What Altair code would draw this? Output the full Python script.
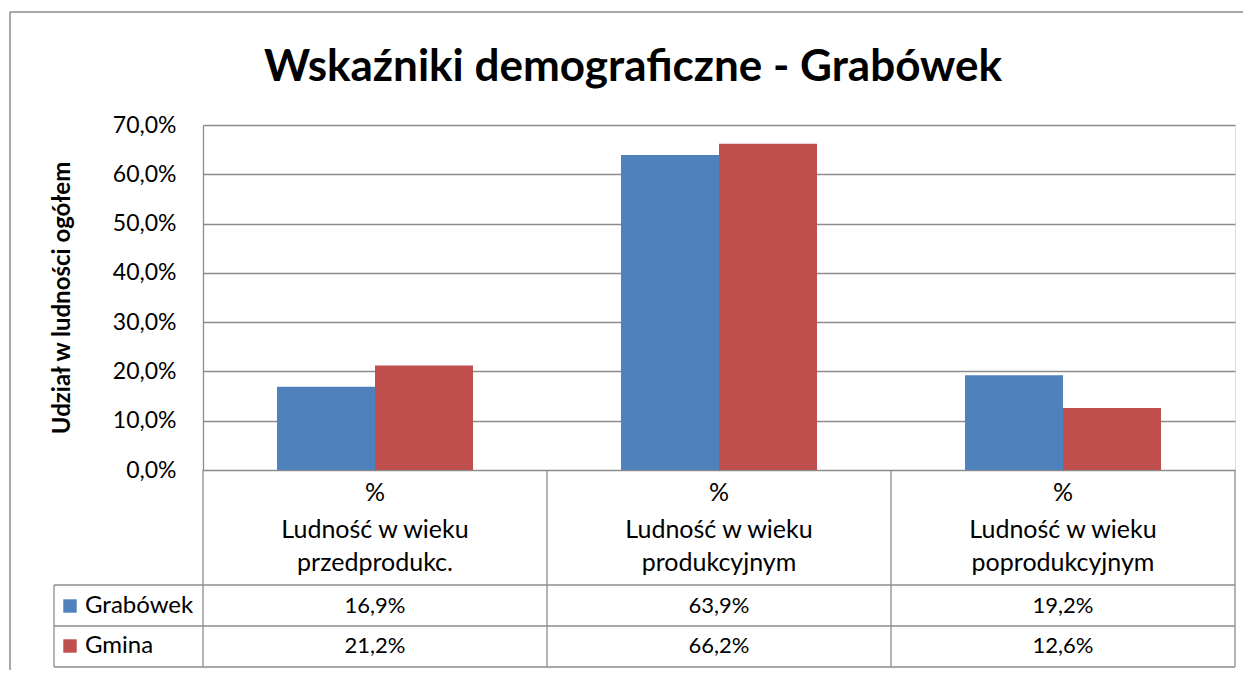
import altair as alt
import pandas as pd

# ---- data ----
series = ["Grabówek", "Gmina"]
cat_line1 = ["Ludność w wieku", "Ludność w wieku", "Ludność w wieku"]
cat_line2 = ["przedprodukc.", "produkcyjnym", "poprodukcyjnym"]
grabowek = [16.9, 63.9, 19.2]
gmina = [21.2, 66.2, 12.6]
y_ticks = [0, 10, 20, 30, 40, 50, 60, 70]
title_text = "Wskaźniki demograficzne - Grabówek"
y_title = "Udział w ludności ogółem"

BLUE = "#4F81BD"
RED = "#C0504D"
GRID = "#8C8C8C"
FONT = "Lato"

rows = []
for s, vals in zip(series, [grabowek, gmina]):
    for c1, c2, v in zip(cat_line1, cat_line2, vals):
        rows.append({"cat": c2, "line1": c1, "series": s, "value": v,
                     "label": f"{v:.1f}".replace(".", ",") + "%"})
df = pd.DataFrame(rows)
cats_df = pd.DataFrame({"cat": cat_line2, "line1": cat_line1})
ser_df = pd.DataFrame({"series": series})

W, H = 1032, 345
PL, PT = 195, 117

xscale = alt.Scale(domain=cat_line2, paddingInner=0, paddingOuter=0)
color = alt.Color("series:N", scale=alt.Scale(domain=series, range=[BLUE, RED]), legend=None)

base = alt.Chart(df)

bars = base.mark_bar(size=98).encode(
    x=alt.X("cat:N", scale=xscale, axis=None, sort=cat_line2),
    xOffset=alt.XOffset("series:N", sort=series,
                        scale=alt.Scale(domain=series, paddingInner=0, paddingOuter=0.755)),
    y=alt.Y("value:Q", scale=alt.Scale(domain=[0, 70], nice=False),
            axis=alt.Axis(values=y_ticks, grid=True, gridColor=GRID, gridWidth=1.3,
                          ticks=False, domain=True, domainColor=GRID, domainWidth=1.3,
                          labelExpr="replace(format(datum.value, '.1f'), '.', ',') + '%'",
                          labelFont=FONT, labelFontSize=23, labelColor="#000",
                          labelPadding=27,
                          title=y_title, titleFont=FONT, titleFontSize=24,
                          titleFontWeight="bold", titleColor="#000",
                          titleX=-141, titleY=H / 2, titleAngle=-90,
                          titleAlign="center", titleBaseline="middle")),
    color=color,
)

# table: vertical lines at category boundaries
vlines = alt.Chart(cats_df).mark_rule(color=GRID, strokeWidth=1.3).encode(
    x=alt.X("cat:N", scale=xscale, axis=None, sort=cat_line2, bandPosition=0),
    y=alt.value(H), y2=alt.value(542),
)
vline_right = alt.Chart(cats_df.head(1)).mark_rule(color=GRID, strokeWidth=1.3).encode(
    x=alt.value(W), y=alt.value(H), y2=alt.value(542))
vline_left = alt.Chart(cats_df.head(1)).mark_rule(color=GRID, strokeWidth=1.3).encode(
    x=alt.value(-149), y=alt.value(460), y2=alt.value(542))
hline_defs = [460, 501, 542]
hlines = [alt.Chart(cats_df.head(1)).mark_rule(color=GRID, strokeWidth=1.3).encode(
    x=alt.value(-149), x2=alt.value(W), y=alt.value(yy)) for yy in hline_defs]

# outer border (top and left)
border_top = alt.Chart(cats_df.head(1)).mark_rule(color=GRID, strokeWidth=1.5).encode(
    x=alt.value(-193), x2=alt.value(W + 40), y=alt.value(-113))
border_left = alt.Chart(cats_df.head(1)).mark_rule(color=GRID, strokeWidth=1.5).encode(
    x=alt.value(-193), y=alt.value(-113), y2=alt.value(560))

HDR = 25
VAL = 22

# table header text
pct = alt.Chart(cats_df).mark_text(font=FONT, fontSize=HDR, color="#000", baseline="middle").encode(
    x=alt.X("cat:N", scale=xscale, axis=None, sort=cat_line2, bandPosition=0.5),
    y=alt.value(368), text=alt.value("%"))
hdr1 = alt.Chart(cats_df).mark_text(font=FONT, fontSize=HDR, color="#000", baseline="middle").encode(
    x=alt.X("cat:N", scale=xscale, axis=None, sort=cat_line2, bandPosition=0.5),
    y=alt.value(405), text="line1:N")
hdr2 = alt.Chart(cats_df).mark_text(font=FONT, fontSize=HDR, color="#000", baseline="middle").encode(
    x=alt.X("cat:N", scale=xscale, axis=None, sort=cat_line2, bandPosition=0.5),
    y=alt.value(438), text="cat:N")

# table values
val_layers = []
for s, yy in zip(series, [481, 521]):
    val_layers.append(
        alt.Chart(df[df.series == s]).mark_text(font=FONT, fontSize=VAL, color="#000",
                                                 baseline="middle").encode(
            x=alt.X("cat:N", scale=xscale, axis=None, sort=cat_line2, bandPosition=0.5),
            y=alt.value(yy), text="label:N"))

# legend keys within table
ser_df["ypos"] = [481, 521]
keys = alt.Chart(ser_df).mark_square(size=180, opacity=1).encode(
    x=alt.value(-133), y=alt.Y("ypos:Q", scale=None), color=color)
key_labels = alt.Chart(ser_df).mark_text(font=FONT, fontSize=24, color="#000",
                                         align="left", baseline="middle").encode(
    x=alt.value(-118), y=alt.Y("ypos:Q", scale=None), text="series:N")

title = alt.Chart(cats_df.head(1)).mark_text(font=FONT, fontSize=44, fontWeight="bold",
                                             color="#000", baseline="middle").encode(
    x=alt.value(430), y=alt.value(-57), text=alt.value(title_text))

chart = alt.layer(
    bars, vlines, vline_right, vline_left, *hlines, border_top, border_left,
    pct, hdr1, hdr2, *val_layers, keys, key_labels, title
).resolve_scale(y="independent").properties(
    width=W, height=H,
    autosize=alt.AutoSizeParams(type="none"),
    padding={"left": PL, "top": PT, "right": 8, "bottom": 200},
).configure_view(stroke=None).configure(background="white")

chart.save("out.html", embed_options={"renderer": "svg", "actions": False})
